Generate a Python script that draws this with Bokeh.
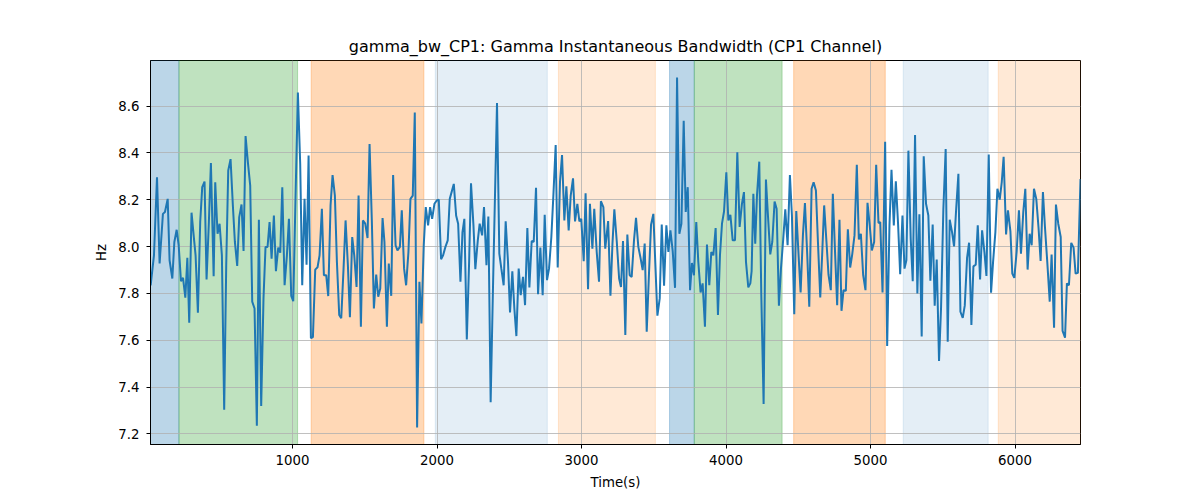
from bokeh.plotting import figure
from bokeh.models import FixedTicker, ColumnDataSource, PrintfTickFormatter
from bokeh.embed import file_html
from bokeh.resources import INLINE

times = [18, 41, 62, 80, 103, 117, 136, 149, 168, 182, 198, 212, 228, 242, 258, 272, 285, 301, 320, 329,
         345, 361, 375, 391, 405, 421, 435, 454, 465, 481, 495, 511, 527, 541, 555, 571, 587, 601, 617, 631,
         647, 661, 675, 691, 707, 721, 737, 753, 767, 783, 799, 813, 827, 841, 855, 871, 885, 901, 915, 929,
         945, 961, 975, 991, 1005, 1021, 1037, 1053, 1067, 1083,
         1097, 1111, 1127, 1141, 1157, 1173, 1187, 1203, 1217, 1233, 1247, 1263, 1277, 1293, 1307, 1323, 1337,
         1353, 1367, 1383, 1397, 1413, 1427, 1443, 1457, 1473, 1487, 1503, 1519, 1533, 1549, 1563, 1579, 1593,
         1607, 1623, 1636, 1653, 1666, 1683, 1696, 1713, 1726, 1743, 1756, 1772, 1786, 1802, 1816, 1832, 1846,
         1862, 1878, 1892, 1908, 1922, 1938, 1952, 1966, 1982, 1998, 2012, 2028, 2042, 2058, 2074,
         2088, 2116, 2132, 2146, 2162, 2176, 2189, 2206, 2222, 2235, 2252, 2265, 2282, 2295, 2312, 2325, 2342,
         2355, 2371, 2388, 2415, 2431, 2445, 2461, 2475, 2491, 2505, 2521, 2535, 2549, 2565, 2579, 2595, 2609,
         2625, 2639, 2655, 2669, 2685, 2699, 2715, 2731, 2745, 2761, 2775, 2791, 2805, 2821, 2835, 2851, 2865,
         2881, 2895, 2911, 2925, 2941, 2955, 2971, 2985, 2998, 3015, 3028, 3045, 3058, 3075, 3088, 3105, 3121,
         3134, 3151, 3164,
         3184, 3200, 3214, 3227, 3244, 3260, 3273, 3287, 3303, 3317, 3333, 3347, 3363, 3377, 3393, 3407, 3423,
         3437, 3451, 3467, 3481, 3497, 3511, 3525, 3541, 3555, 3571, 3587, 3601, 3615, 3631, 3647, 3661, 3677,
         3691, 3707, 3721, 3735, 3751, 3764, 3778, 3794, 3808, 3824, 3838, 3854, 3868, 3884, 3898, 3912, 3928,
         3944, 3958, 3972, 3986, 4002, 4016, 4030, 4046, 4062, 4078, 4094, 4110, 4124, 4138, 4154, 4168, 4177,
         4189, 4202,
         4214, 4230, 4244, 4260, 4276, 4290, 4306, 4320, 4336, 4350, 4366, 4380, 4396, 4410, 4426, 4442, 4456,
         4472, 4486, 4502, 4516, 4532, 4546, 4562, 4576, 4592, 4606, 4622, 4636, 4652, 4665, 4679, 4695, 4709,
         4725, 4739, 4755, 4769, 4785, 4799, 4813, 4829, 4843, 4859, 4873, 4889, 4905, 4919, 4933, 4949, 4965,
         4979, 4995, 5009, 5025, 5039, 5055, 5067, 5083, 5101, 5115, 5131, 5145, 5161, 5175, 5191, 5205, 5221,
         5235,
         5248, 5262, 5278, 5292, 5308, 5324, 5338, 5354, 5368, 5384, 5400, 5414, 5430, 5444, 5458, 5474, 5488,
         5504, 5520, 5534, 5548, 5564, 5578, 5592, 5608, 5622, 5638, 5652, 5668, 5682, 5698, 5712, 5728, 5742,
         5758, 5772, 5788, 5802, 5818, 5834, 5848, 5864, 5878, 5894, 5908, 5921, 5938, 5951, 5968, 5981, 5995,
         6011, 6027, 6041, 6057, 6071, 6087, 6101, 6115, 6131, 6147, 6163, 6177, 6193, 6207, 6223, 6240, 6253,
         6270, 6283, 6299, 6316, 6329, 6346, 6359, 6373, 6389, 6405, 6419, 6435, 6453]

values = [7.835, 7.963, 8.296, 7.928, 8.140, 8.148, 8.204, 7.942, 7.864, 8.020, 8.072, 8.006, 7.852, 7.867,
          7.782, 7.952, 7.675, 8.145, 8.020, 7.963, 7.718, 8.105, 8.254, 8.278, 7.860, 8.105, 8.357, 7.874,
          8.275, 8.055, 8.098, 7.963, 7.304, 7.920, 8.325, 8.374, 8.176, 8.020, 7.918, 8.126, 8.180, 7.982,
          8.472, 8.360, 8.261, 7.765, 7.736, 7.235, 8.115, 7.320, 7.779, 7.999, 7.999, 8.105, 7.949, 8.133,
          7.895, 7.996, 7.974, 8.254, 7.835, 7.963, 8.119, 7.790, 7.767, 8.218, 8.658, 8.353, 7.835, 8.204,
          7.923, 8.389, 7.609, 7.614, 7.902, 7.912, 7.963, 8.162, 7.878, 7.878, 7.789, 8.176, 8.306, 8.218,
          7.935, 7.708, 7.694, 7.906, 8.112, 7.921, 7.699, 8.041, 7.963, 7.828, 8.218, 7.658, 8.112, 8.098,
          8.037, 8.438, 8.105, 7.736, 7.881, 7.786, 7.821, 8.122, 8.020, 7.658, 7.928, 7.790, 8.306, 8.006,
          7.984, 7.999, 8.155, 7.906, 7.835, 7.977, 8.204, 8.218, 8.573, 7.228, 7.850, 7.672, 8.006, 8.169,
          8.091, 8.169, 8.119, 8.183, 8.197, 8.201, 7.946, 7.963, 7.999, 8.027,
          8.204, 8.268, 8.133, 8.098, 7.850, 8.062, 8.119, 7.604, 7.935, 8.271, 8.091, 7.904, 8.027, 8.098,
          8.048, 8.169, 7.921, 8.129, 7.336, 7.850, 8.613, 7.970, 7.906, 7.835, 8.108, 7.935, 7.719, 7.895,
          7.736, 7.618, 7.906, 7.793, 7.871, 7.750, 8.079, 7.826, 8.024, 8.020, 8.251, 7.797, 7.996, 7.793,
          8.136, 7.857, 7.906, 8.041, 8.218, 8.434, 7.911, 8.278, 8.391, 8.112, 8.258, 8.069, 8.218, 8.292,
          8.108, 8.183, 8.108, 8.119, 7.938, 8.228, 7.818, 8.183, 7.991, 8.162, 7.977, 7.850, 8.194, 8.169,
          7.991,
          8.109, 7.790, 8.013, 8.159, 8.020, 7.864, 7.828, 8.024, 7.623, 8.052, 7.878, 7.871, 8.027, 8.123,
          7.999, 7.956, 7.900, 8.013, 7.637, 7.889, 8.094, 8.140, 7.921, 7.705, 7.779, 8.094, 7.833, 8.091,
          7.977, 8.070, 7.980, 7.824, 8.722, 8.055, 8.098, 8.538, 8.148, 8.254, 7.814, 7.930, 7.878, 8.105,
          7.935, 7.804, 7.843, 7.658, 8.009, 7.835, 7.977, 7.963, 8.079, 7.708, 7.963, 8.098, 8.150, 8.318,
          8.112, 8.136, 8.027, 8.027, 8.403, 8.084, 8.183, 8.233, 7.935, 7.826, 7.843, 7.895, 8.226, 8.013,
          8.218, 8.363, 7.793, 7.328, 8.287, 8.133, 7.967, 8.020, 8.193, 8.162, 7.748, 7.906, 8.034, 8.159,
          8.006, 8.306, 8.133, 7.711, 8.152, 7.963, 7.804, 8.048, 8.186, 7.963, 7.743, 8.247, 8.275, 8.240,
          8.020, 7.783, 7.963, 8.176, 8.020, 7.881, 7.814, 8.226, 7.967, 7.750, 8.115, 7.726, 7.814, 7.811,
          8.074, 7.911, 7.966, 8.048, 8.350, 8.031, 8.055, 7.878, 7.814, 8.187, 8.086, 7.984, 8.020, 8.350,
          8.101, 8.105, 7.804, 8.448, 7.576, 8.091, 8.328, 8.091, 8.279, 8.091, 7.882, 8.133, 7.906,
          7.942, 8.410, 8.034, 7.852, 8.477, 7.800, 8.138, 7.616, 8.386, 8.183, 8.133, 7.854, 8.094, 7.748,
          7.945, 7.512, 7.739, 8.162, 8.417, 7.594, 8.115, 8.062, 8.001, 8.155, 8.311, 7.722, 7.696, 7.748,
          7.952, 8.017, 7.665, 7.916, 7.923, 8.091, 7.860, 8.070, 7.977, 7.875, 8.393, 7.803, 7.935, 8.062,
          8.247, 8.201, 8.275, 8.384, 8.052, 8.155, 8.065, 7.885, 7.867, 7.977, 8.155, 7.970, 8.148, 8.247,
          7.902, 8.055, 8.006, 8.247, 8.204, 8.077, 7.939, 8.233, 8.084, 7.935, 7.765, 7.966, 7.654, 8.180,
          8.098, 8.041, 7.640, 7.611, 7.843, 7.835, 8.016, 7.996, 7.885, 7.888, 8.289]

span_starts = [17, 214, 1129, 1988, 2840, 3609, 3780, 4468, 5226, 5884]
span_ends = [214, 1035, 1909, 2763, 3511, 3780, 4388, 5102, 5814, 6453]
span_kinds = ["A", "B", "C", "D", "E", "A", "B", "C", "D", "E"]

y_ticks = [7.2, 7.4, 7.6, 7.8, 8.0, 8.2, 8.4, 8.6]
x_ticks = [1000, 2000, 3000, 4000, 5000, 6000]

kind_style = {"A": ("#1f77b4", 0.3), "B": ("#2ca02c", 0.3), "C": ("#ff7f0e", 0.3),
              "D": ("#1f77b4", 0.12), "E": ("#ff7f0e", 0.17)}

FONT = "DejaVu Sans"

p = figure(width=1184, height=492, output_backend="svg", toolbar_location=None,
           x_range=(times[0] - 1, times[-1]), y_range=(7.155, 8.795),
           min_border_left=150, min_border_right=104, min_border_top=60, min_border_bottom=47,
           title="gamma_bw_CP1: Gamma Instantaneous Bandwidth (CP1 Channel)")

span_src = ColumnDataSource(dict(
    left=span_starts, right=span_ends,
    color=[kind_style[k][0] for k in span_kinds],
    alpha=[kind_style[k][1] for k in span_kinds]))
r = p.quad(left="left", right="right", bottom=-100, top=100, source=span_src,
           fill_color="color", fill_alpha="alpha", line_color="color", line_alpha="alpha", line_width=1)
r.level = "image"

p.line(times, values, line_color="#1f77b4", line_width=2)

p.title.align = "center"
p.title.text_font = FONT
p.title.text_font_size = "16px"
p.title.text_font_style = "normal"
p.title.text_color = "black"

p.xaxis.axis_label = "Time(s)"
p.yaxis.axis_label = "Hz"
p.xaxis.ticker = FixedTicker(ticks=x_ticks)
p.yaxis.ticker = FixedTicker(ticks=y_ticks)
p.yaxis.formatter = PrintfTickFormatter(format="%.1f")
for ax in (p.xaxis, p.yaxis):
    ax.axis_label_text_font = FONT
    ax.axis_label_text_font_size = "13.3px"
    ax.axis_label_text_font_style = "normal"
    ax.axis_label_text_color = "black"
    ax.major_label_text_font = FONT
    ax.major_label_text_font_size = "13.3px"
    ax.major_label_text_color = "black"
    ax.axis_line_color = "black"
    ax.major_tick_line_color = "black"
    ax.major_tick_out = 4
    ax.major_tick_in = 0
    ax.minor_tick_line_color = None
p.xaxis.major_label_standoff = 6
p.xaxis.axis_label_standoff = 7
p.yaxis.major_label_standoff = 7
p.yaxis.axis_label_standoff = 6

p.grid.grid_line_color = "#b0b0b0"
p.grid.grid_line_width = 0.8
p.outline_line_color = "black"
p.outline_line_width = 1
p.outline_line_alpha = 1
p.background_fill_color = "white"
p.border_fill_color = "white"

open("out.html", "w").write(file_html(p, INLINE))
